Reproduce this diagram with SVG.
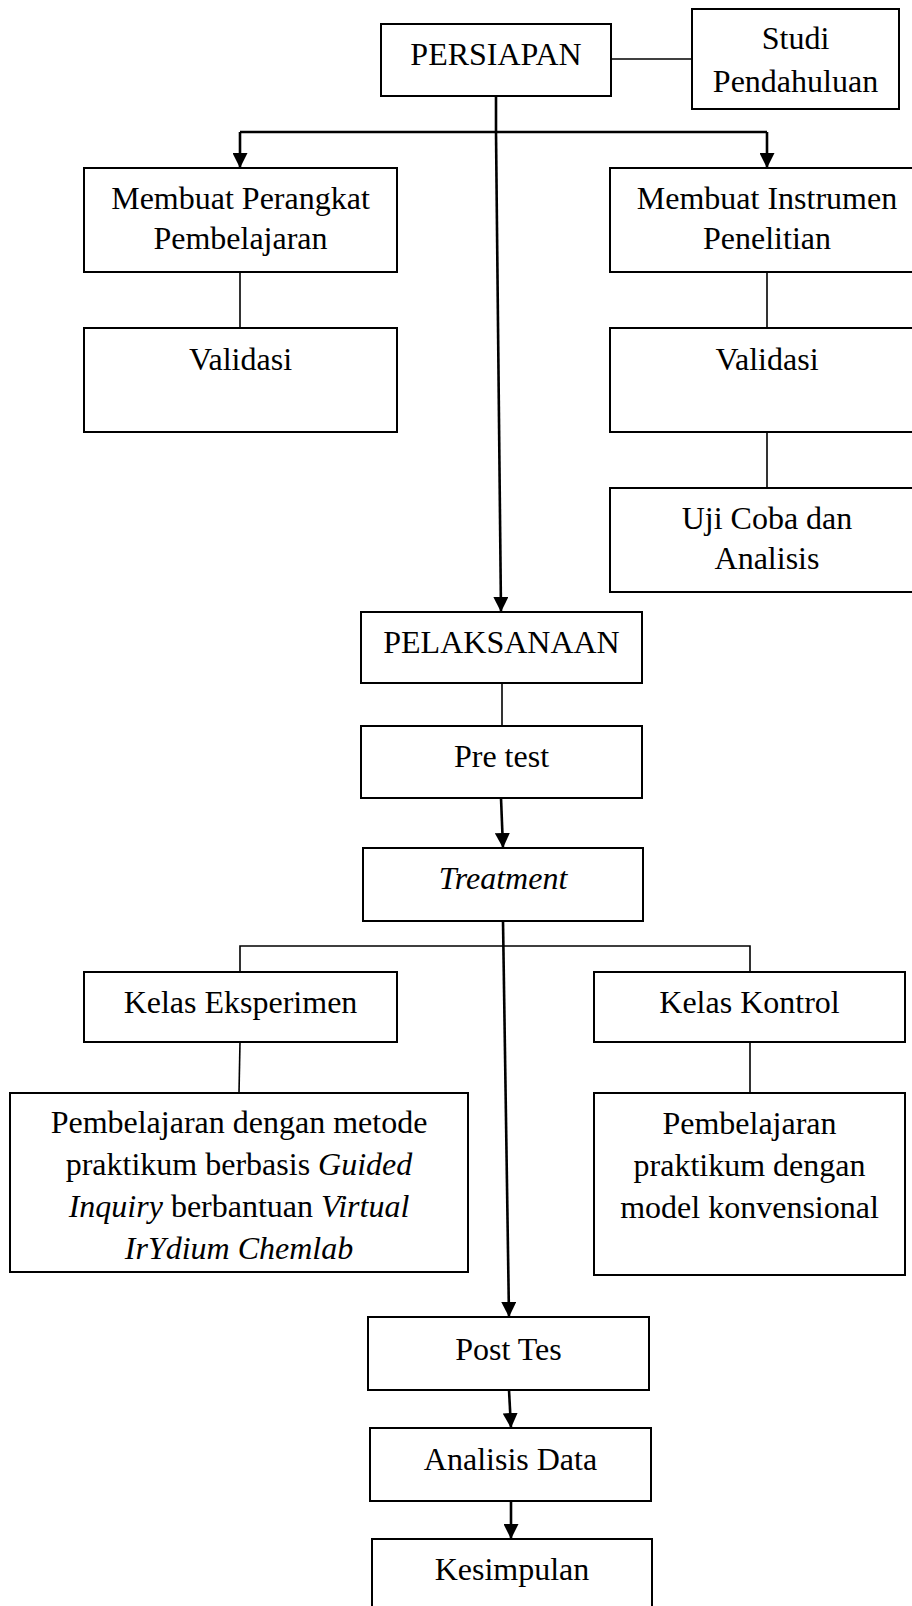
<svg xmlns="http://www.w3.org/2000/svg" width="912" height="1606" viewBox="0 0 912 1606">
<style>
.box{fill:#fff;stroke:#000;stroke-width:2}
.t{font-family:"Liberation Serif","Times New Roman",serif;font-size:32px;fill:#000;text-anchor:middle}
.i{font-style:italic}
.thin{stroke:#000;stroke-width:1.6;fill:none}
.thick{stroke:#000;stroke-width:2.6;fill:none}
.arr{stroke:#000;stroke-width:2.6;fill:none;marker-end:url(#ah)}
</style>
<defs>
<marker id="ah" markerUnits="userSpaceOnUse" markerWidth="16" markerHeight="15" refX="15" refY="7.5" orient="auto" viewBox="0 0 16 15">
<path d="M0,0 L15,7.5 L0,15 Z" fill="#000"/>
</marker>
</defs>
<rect width="912" height="1606" fill="#fff"/>
<g id="connectors">
<line class="thin" x1="611" y1="59" x2="692" y2="59"/>
<line class="thick" x1="496" y1="96" x2="496" y2="132"/>
<line class="thick" x1="240" y1="132" x2="767" y2="132"/>
<line class="arr" x1="240" y1="132" x2="240" y2="168"/>
<line class="arr" x1="767" y1="132" x2="767" y2="168"/>
<line class="arr" x1="496" y1="132" x2="501" y2="612"/>
<line class="thin" x1="240" y1="272" x2="240" y2="328"/>
<line class="thin" x1="767" y1="272" x2="767" y2="328"/>
<line class="thin" x1="767" y1="432" x2="767" y2="488"/>
<line class="thin" x1="502" y1="683" x2="502" y2="726"/>
<line class="arr" x1="501" y1="798" x2="503" y2="848"/>
<line class="arr" x1="503" y1="921" x2="509" y2="1317"/>
<polyline class="thin" points="240,972 240,946 750,946 750,972"/>
<line class="thin" x1="240" y1="1042" x2="239" y2="1093"/>
<line class="thin" x1="750" y1="1042" x2="750" y2="1093"/>
<line class="arr" x1="509" y1="1390" x2="511" y2="1428"/>
<line class="arr" x1="511" y1="1501" x2="511" y2="1539"/>
</g>
<g id="persiapan"><rect class="box" x="381" y="24" width="230" height="72"/><text class="t" x="496" y="65">PERSIAPAN</text></g>
<g id="studi"><rect class="box" x="692" y="9" width="207" height="100"/><text class="t" x="795.5" y="49">Studi</text><text class="t" x="795.5" y="92">Pendahuluan</text></g>
<g id="perangkat"><rect class="box" x="84" y="168" width="313" height="104"/><text class="t" x="240.5" y="209">Membuat Perangkat</text><text class="t" x="240.5" y="249">Pembelajaran</text></g>
<g id="validasi1"><rect class="box" x="84" y="328" width="313" height="104"/><text class="t" x="240.5" y="370">Validasi</text></g>
<g id="instrumen"><rect class="box" x="610" y="168" width="314" height="104"/><text class="t" x="767" y="209">Membuat Instrumen</text><text class="t" x="767" y="249">Penelitian</text></g>
<g id="validasi2"><rect class="box" x="610" y="328" width="314" height="104"/><text class="t" x="767" y="370">Validasi</text></g>
<g id="ujicoba"><rect class="box" x="610" y="488" width="314" height="104"/><text class="t" x="767" y="529">Uji Coba dan</text><text class="t" x="767" y="569">Analisis</text></g>
<g id="pelaksanaan"><rect class="box" x="361" y="612" width="281" height="71"/><text class="t" x="501.5" y="653">PELAKSANAAN</text></g>
<g id="pretest"><rect class="box" x="361" y="726" width="281" height="72"/><text class="t" x="501.5" y="767">Pre test</text></g>
<g id="treatment"><rect class="box" x="363" y="848" width="280" height="73"/><text class="t i" x="503" y="889">Treatment</text></g>
<g id="eksperimen"><rect class="box" x="84" y="972" width="313" height="70"/><text class="t" x="240.5" y="1013">Kelas Eksperimen</text></g>
<g id="eksperimen-desc"><rect class="box" x="10" y="1093" width="458" height="179"/>
<text class="t" x="239" y="1133">Pembelajaran dengan metode</text>
<text class="t" x="239" y="1175">praktikum berbasis <tspan class="i">Guided</tspan></text>
<text class="t" x="239" y="1217"><tspan class="i">Inquiry</tspan> berbantuan <tspan class="i">Virtual</tspan></text>
<text class="t i" x="239" y="1259">IrYdium Chemlab</text></g>
<g id="kontrol"><rect class="box" x="594" y="972" width="311" height="70"/><text class="t" x="749.5" y="1013">Kelas Kontrol</text></g>
<g id="kontrol-desc"><rect class="box" x="594" y="1093" width="311" height="182"/>
<text class="t" x="749.5" y="1134">Pembelajaran</text>
<text class="t" x="749.5" y="1176">praktikum dengan</text>
<text class="t" x="749.5" y="1218">model konvensional</text></g>
<g id="posttes"><rect class="box" x="368" y="1317" width="281" height="73"/><text class="t" x="508.5" y="1360">Post Tes</text></g>
<g id="analisis"><rect class="box" x="370" y="1428" width="281" height="73"/><text class="t" x="510.5" y="1470">Analisis Data</text></g>
<g id="kesimpulan"><rect class="box" x="372" y="1539" width="280" height="80"/><text class="t" x="512" y="1580">Kesimpulan</text></g>
</svg>
